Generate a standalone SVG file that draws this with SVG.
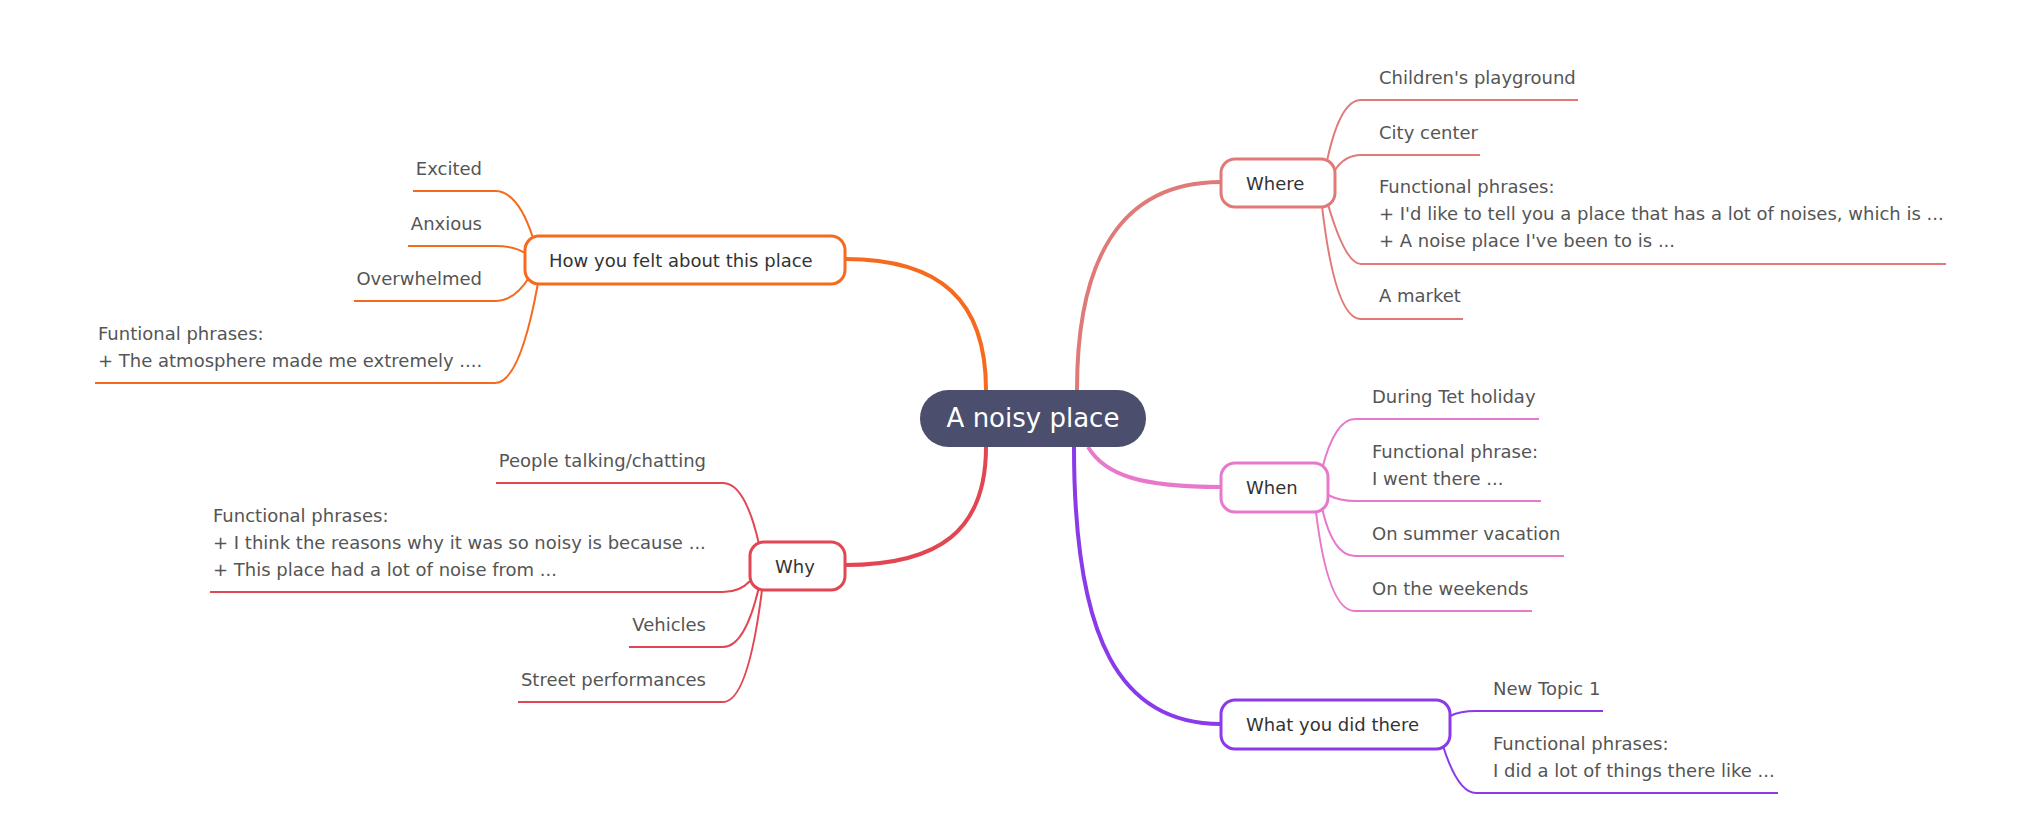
<svg xmlns="http://www.w3.org/2000/svg" width="2041" height="838" viewBox="0 0 2041 838">
<style>
text{font-family:"DejaVu Sans",sans-serif;}
.l{font-size:18px;fill:#555;}
.n{font-size:18px;fill:#333;}
.c{fill:none;stroke-width:4;}
.s{fill:none;stroke-width:2;}
.b{fill:#fff;stroke-width:3;}
</style>
<rect width="2041" height="838" fill="#fff"/>
<g id="connectors">
<path class="c" stroke="#f56a1f" d="M986 390 C986 300 940 259 845 259"/>
<path class="c" stroke="#e24652" d="M986 447 C986 530 940 565 845 565"/>
<path class="c" stroke="#e07a78" d="M1077 390 C1077 260 1120 182 1221 182"/>
<path class="c" stroke="#e878cc" d="M1088 447 C1105 475 1140 487 1221 487"/>
<path class="c" stroke="#8a3ae8" d="M1074 447 C1074 640 1120 724 1221 724"/>
<g stroke="#e07a78">
<path class="s" d="M1327 161 Q1340 100 1361 100 L1578 100"/>
<path class="s" d="M1335 170 Q1345 155 1361 155 L1480 155"/>
<path class="s" d="M1327 201 Q1345 264 1361 264 L1946 264"/>
<path class="s" d="M1322 206 Q1335 319 1361 319 L1463 319"/>
</g>
<g stroke="#e878cc">
<path class="s" d="M1322 469 Q1335 419 1355 419 L1539 419"/>
<path class="s" d="M1328 495 Q1340 501 1355 501 L1541 501"/>
<path class="s" d="M1322 508 Q1333 556 1355 556 L1564 556"/>
<path class="s" d="M1316 512 Q1328 611 1355 611 L1532 611"/>
</g>
<g stroke="#8a3ae8">
<path class="s" d="M1450 716 Q1460 711 1476 711 L1603 711"/>
<path class="s" d="M1443 746 Q1458 793 1476 793 L1778 793"/>
</g>
<g stroke="#f56a1f">
<path class="s" d="M533 238 Q518 191 495 191 L413 191"/>
<path class="s" d="M525 253 Q515 246 495 246 L408 246"/>
<path class="s" d="M530 276 Q515 301 495 301 L354 301"/>
<path class="s" d="M538 283 Q520 383 495 383 L95 383"/>
</g>
<g stroke="#e24652">
<path class="s" d="M759 544 Q745 483 723 483 L496 483"/>
<path class="s" d="M750 581 Q740 592 723 592 L210 592"/>
<path class="s" d="M759 587 Q745 647 723 647 L629 647"/>
<path class="s" d="M762 590 Q748 702 723 702 L518 702"/>
</g>
</g>
<g id="center"><rect x="920" y="390" width="226" height="57" rx="28.5" fill="#4b4e6c"/><text x="1033" y="427" text-anchor="middle" font-size="26" fill="#fff">A noisy place</text></g>
<g id="where"><rect class="b" stroke="#e07a78" x="1221" y="159" width="114" height="48" rx="14"/><text class="n" x="1246" y="190">Where</text></g>
<g id="when"><rect class="b" stroke="#e878cc" x="1221" y="463" width="107" height="49" rx="14"/><text class="n" x="1246" y="494">When</text></g>
<g id="what"><rect class="b" stroke="#8a3ae8" x="1221" y="700" width="229" height="49" rx="14"/><text class="n" x="1246" y="731">What you did there</text></g>
<g id="how"><rect class="b" stroke="#f56a1f" x="525" y="236" width="320" height="48" rx="14"/><text class="n" x="549" y="267">How you felt about this place</text></g>
<g id="why"><rect class="b" stroke="#e24652" x="750" y="542" width="95" height="48" rx="14"/><text class="n" x="775" y="573">Why</text></g>
<g id="leaves">
<text class="l" x="1379" y="84">Children's playground</text>
<text class="l" x="1379" y="139">City center</text>
<text class="l" x="1379" y="193">Functional phrases:</text>
<text class="l" x="1379" y="220">+ I'd like to tell you a place that has a lot of noises, which is ...</text>
<text class="l" x="1379" y="247">+ A noise place I've been to is ...</text>
<text class="l" x="1379" y="302">A market</text>
<text class="l" x="1372" y="403">During Tet holiday</text>
<text class="l" x="1372" y="458">Functional phrase:</text>
<text class="l" x="1372" y="485">I went there ...</text>
<text class="l" x="1372" y="540">On summer vacation</text>
<text class="l" x="1372" y="595">On the weekends</text>
<text class="l" x="1493" y="695">New Topic 1</text>
<text class="l" x="1493" y="750">Functional phrases:</text>
<text class="l" x="1493" y="777">I did a lot of things there like ...</text>
<text class="l" x="482" y="175" text-anchor="end">Excited</text>
<text class="l" x="482" y="230" text-anchor="end">Anxious</text>
<text class="l" x="482" y="285" text-anchor="end">Overwhelmed</text>
<text class="l" x="98" y="340">Funtional phrases:</text>
<text class="l" x="98" y="367">+ The atmosphere made me extremely ....</text>
<text class="l" x="706" y="467" text-anchor="end">People talking/chatting</text>
<text class="l" x="213" y="522">Functional phrases:</text>
<text class="l" x="213" y="549">+ I think the reasons why it was so noisy is because ...</text>
<text class="l" x="213" y="576">+ This place had a lot of noise from ...</text>
<text class="l" x="706" y="631" text-anchor="end">Vehicles</text>
<text class="l" x="706" y="686" text-anchor="end">Street performances</text>
</g>
</svg>
